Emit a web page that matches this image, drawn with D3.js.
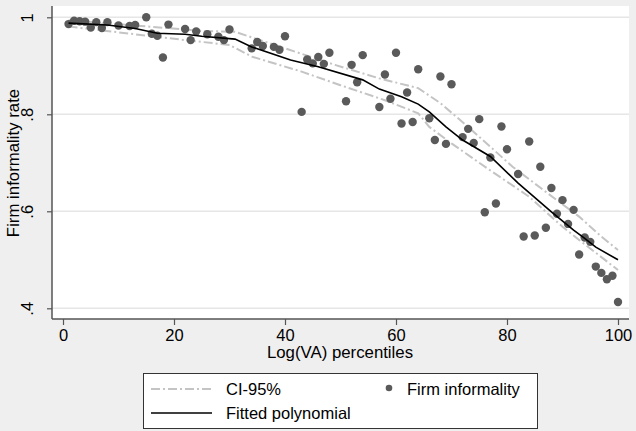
<!DOCTYPE html>
<html>
<head>
<meta charset="utf-8">
<script src="https://cdn.jsdelivr.net/npm/d3@7"></script>
<style>
  html, body { margin: 0; padding: 0; background: #efefef; }
  svg { display: block; }
  text { font-family: "Liberation Sans", Arial, Helvetica, sans-serif; fill: #000; }
</style>
</head>
<body>
<svg id="chart" width="636" height="431"></svg>
<script>
// ---- data ----
const pointX = [1,2,3,4,5,6,7,8,10,12,13,15,16,17,18,19,22,23,24,26,28,29,30,34,35,36,38,39,40,43,
                44,45,46,47,48,51,52,53,54,57,58,59,60,61,62,63,64,66,67,68,69,70,72,73,74,75,76,77,78,79,
                80,82,83,84,85,86,87,88,89,90,91,92,93,94,95,96,97,98,99,100];
const pointY = [0.986,0.993,0.992,0.991,0.979,0.990,0.978,0.990,0.983,0.982,0.984,1.000,0.966,0.962,0.917,0.985,0.976,0.953,0.971,0.965,0.960,0.953,0.975,0.936,0.949,0.941,0.939,0.933,0.961,0.805,
                0.913,0.905,0.918,0.904,0.927,0.827,0.902,0.866,0.922,0.815,0.882,0.832,0.927,0.781,0.845,0.784,0.893,0.792,0.747,0.878,0.739,0.862,0.753,0.770,0.741,0.790,0.598,0.711,0.616,0.775,
                0.728,0.677,0.548,0.744,0.550,0.692,0.566,0.648,0.595,0.623,0.574,0.603,0.511,0.546,0.537,0.486,0.473,0.460,0.467,0.413];

const fitX = [1,8,13,17,22,25,31,34,41,46,54,57,61,64,66,69,72,77,82,88,92,94,96,100];
const fitY = [0.988,0.984,0.977,0.967,0.965,0.961,0.955,0.939,0.912,0.898,0.871,0.852,0.836,0.821,0.805,0.774,0.747,0.713,0.658,0.599,0.561,0.544,0.526,0.500];

const ciUpX = [1,25,31,40,49,57,64,68,73,81,87,93,97,100];
const ciUpY = [0.994,0.972,0.970,0.936,0.902,0.874,0.854,0.823,0.774,0.692,0.640,0.589,0.548,0.520];
const ciLoX = [1,22,30,34,43,50,58,64,66,70,76,84,90,93,100];
const ciLoY = [0.981,0.953,0.943,0.919,0.888,0.860,0.829,0.802,0.774,0.740,0.692,0.630,0.568,0.541,0.479];

const xTicks = [0,20,40,60,80,100];
const yTicks = [0.4,0.6,0.8,1];
const yTickLabels = [".4",".6",".8","1"];

const xTitle = "Log(VA) percentiles";
const yTitle = "Firm informality rate";
const legendLabels = ["CI-95%","Fitted polynomial","Firm informality"];

// ---- drawing ----
const svg = d3.select("#chart");
const W = 636, H = 431;
const plot = {left: 52, right: 629, top: 6, bottom: 319};
const FONT = '"Liberation Sans", Arial, sans-serif';

svg.append("rect").attr("width", W).attr("height", H).attr("fill", "#efefef");
svg.append("rect").attr("x", plot.left).attr("y", plot.top)
   .attr("width", plot.right - plot.left).attr("height", plot.bottom - plot.top).attr("fill", "#ffffff");

const x = d3.scaleLinear().domain([0,100]).range([63,618]);
const y = d3.scaleLinear().domain([0.4,1]).range([308.3,17.3]);

// gridlines
svg.append("g").selectAll("line").data(yTicks).join("line")
  .attr("x1", plot.left).attr("x2", plot.right)
  .attr("y1", d => y(d)).attr("y2", d => y(d))
  .attr("stroke", "#e6e6e6").attr("stroke-width", 1.5);

// axes
const xAxis = d3.axisBottom(x).tickValues(xTicks).tickSize(6).tickSizeOuter(0);
const gx = svg.append("g").attr("transform", `translate(0,${plot.bottom})`).call(xAxis);
gx.select(".domain").attr("d", `M${plot.left},0H${plot.right}`).attr("stroke", "#555").attr("stroke-width", 1.5);
gx.selectAll(".tick line").attr("stroke", "#555").attr("stroke-width", 1.2);
gx.selectAll(".tick text").attr("font-size", 16.5).attr("fill", "#000")
  .attr("font-family", FONT).attr("dy", "0.75em").attr("y", 10);

const yAxis = d3.axisLeft(y).tickValues(yTicks).tickFormat((d,i) => yTickLabels[i]).tickSize(5).tickSizeOuter(0);
const gy = svg.append("g").attr("transform", `translate(${plot.left},0)`).call(yAxis);
gy.select(".domain").attr("d", `M0,${plot.top}V${plot.bottom}`).attr("stroke", "#555").attr("stroke-width", 1.5);
gy.selectAll(".tick line").attr("stroke", "#555").attr("stroke-width", 1.2);
gy.selectAll(".tick text").attr("font-size", 16.5).attr("fill", "#000")
  .attr("font-family", FONT)
  .attr("x", null).attr("dy", null)
  .attr("text-anchor", "middle")
  .attr("transform", "translate(-19,0) rotate(-90)");

// titles
svg.append("text").attr("x", 340).attr("y", 358).attr("text-anchor", "middle")
  .attr("font-size", 16.8).text(xTitle);
svg.append("text").attr("transform", "translate(19,163) rotate(-90)").attr("text-anchor", "middle")
  .attr("font-size", 16.8).text(yTitle);

// CI lines
const line = d3.line().x(d => x(d[0])).y(d => y(d[1]));
const ciStyle = sel => sel.attr("fill", "none").attr("stroke", "#c4c4c4").attr("stroke-width", 2)
  .attr("stroke-dasharray", "9,3,2,3");
svg.append("path").datum(d3.zip(ciUpX, ciUpY)).attr("d", line).call(ciStyle);
svg.append("path").datum(d3.zip(ciLoX, ciLoY)).attr("d", line).call(ciStyle);

// points
svg.append("g").selectAll("circle").data(d3.zip(pointX, pointY)).join("circle")
  .attr("cx", d => x(d[0])).attr("cy", d => y(d[1])).attr("r", 4.2)
  .attr("fill", "#5a5a5a");

// fitted line
svg.append("path").datum(d3.zip(fitX, fitY)).attr("d", line)
  .attr("fill", "none").attr("stroke", "#000").attr("stroke-width", 1.6);

// legend
const lg = svg.append("g");
lg.append("rect").attr("x", 143.5).attr("y", 373.5).attr("width", 394).attr("height", 55)
  .attr("fill", "#fff").attr("stroke", "#333").attr("stroke-width", 1);
lg.append("line").attr("x1", 151).attr("x2", 212).attr("y1", 389).attr("y2", 389).call(ciStyle);
lg.append("line").attr("x1", 151).attr("x2", 212).attr("y1", 413).attr("y2", 413)
  .attr("stroke", "#000").attr("stroke-width", 1.6);
lg.append("circle").attr("cx", 389).attr("cy", 388).attr("r", 3.3).attr("fill", "#5a5a5a");
lg.append("text").attr("x", 226).attr("y", 394.5).attr("font-size", 16.5).text(legendLabels[0]);
lg.append("text").attr("x", 226).attr("y", 419).attr("font-size", 16.5).text(legendLabels[1]);
lg.append("text").attr("x", 407).attr("y", 394.5).attr("font-size", 16.5).text(legendLabels[2]);
</script>
</body>
</html>
